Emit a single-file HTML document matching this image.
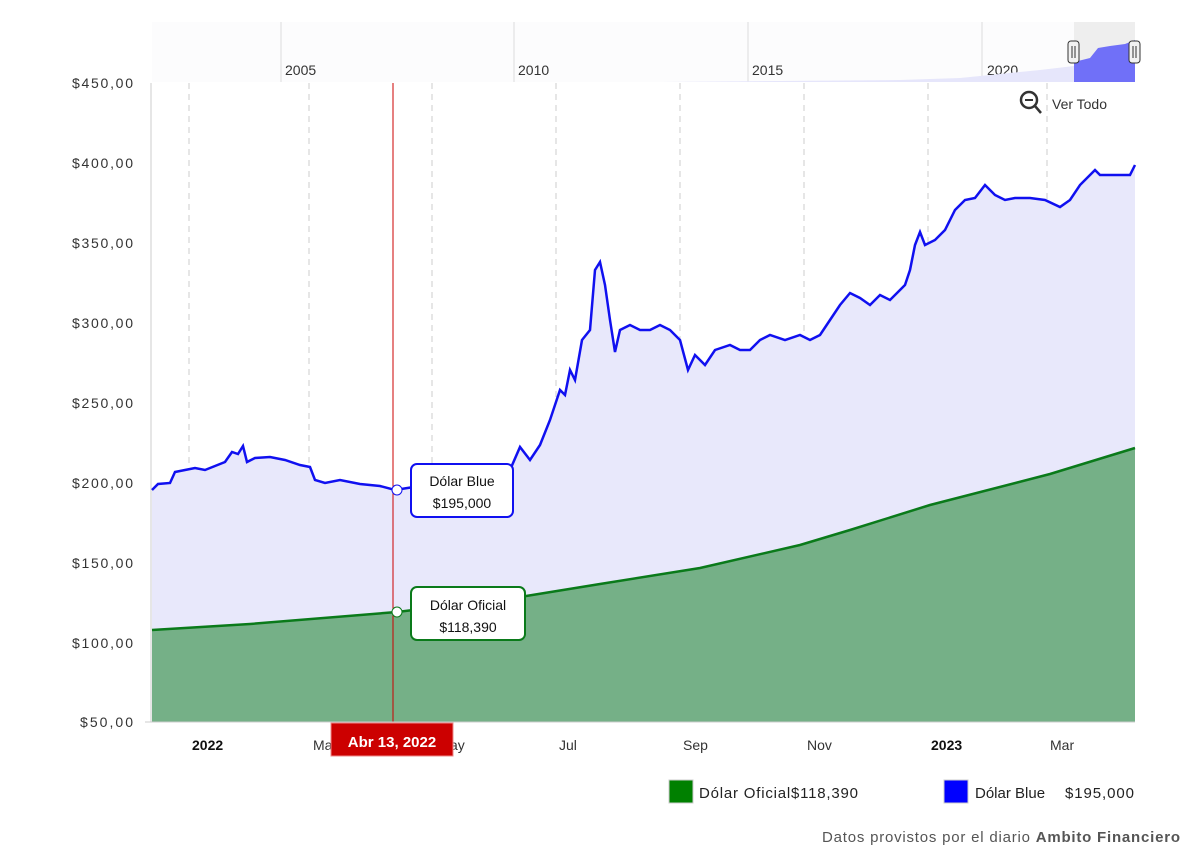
<!DOCTYPE html><html><head><meta charset="utf-8"><style>
body{margin:0;background:#fff;font-family:"Liberation Sans",Arial,sans-serif}
</style></head><body>
<svg width="1200" height="853" xmlns="http://www.w3.org/2000/svg" font-family="Liberation Sans, Arial, sans-serif">
<rect x="152" y="22" width="983" height="60" fill="#fcfcfd"/>
<g stroke="#ddd" stroke-width="1"><line x1="281" y1="22" x2="281" y2="82"/><line x1="514" y1="22" x2="514" y2="82"/><line x1="748" y1="22" x2="748" y2="82"/><line x1="982" y1="22" x2="982" y2="82"/></g>
<g font-size="14" fill="#333"><text x="285" y="75">2005</text><text x="518" y="75">2010</text><text x="752" y="75">2015</text><text x="987" y="75">2020</text></g>
<path d="M660 82 L900 80 L960 78 L1000 74 L1040 70 L1074 66 L1074 82 Z" fill="#e6e6fb"/>
<rect x="1074" y="22" width="61" height="60" fill="#eee"/>
<path d="M1074 82 L1074 62 L1090 58 L1098 48 L1110 46 L1125 44 L1135 40 L1135 82 Z" fill="#7070f8"/>
<rect x="1068" y="41" width="11" height="22" rx="3" fill="#f2f2f2" stroke="#333"/><rect x="1129" y="41" width="11" height="22" rx="3" fill="#f2f2f2" stroke="#333"/>
<g stroke="#333"><line x1="1072" y1="46" x2="1072" y2="58"/><line x1="1075" y1="46" x2="1075" y2="58"/><line x1="1133" y1="46" x2="1133" y2="58"/><line x1="1136" y1="46" x2="1136" y2="58"/></g>
<line x1="151" y1="83" x2="151" y2="722" stroke="#ccc"/>
<g stroke="#ccc" stroke-dasharray="6,5"><line x1="189" y1="83" x2="189" y2="722"/><line x1="309" y1="83" x2="309" y2="722"/><line x1="432" y1="83" x2="432" y2="722"/><line x1="556" y1="83" x2="556" y2="722"/><line x1="680" y1="83" x2="680" y2="722"/><line x1="804" y1="83" x2="804" y2="722"/><line x1="928" y1="83" x2="928" y2="722"/><line x1="1047" y1="83" x2="1047" y2="722"/></g>
<g font-size="14" fill="#333"><text x="72" y="88" textLength="61">$450,00</text><text x="72" y="168" textLength="61">$400,00</text><text x="72" y="248" textLength="61">$350,00</text><text x="72" y="328" textLength="61">$300,00</text><text x="72" y="408" textLength="61">$250,00</text><text x="72" y="488" textLength="61">$200,00</text><text x="72" y="568" textLength="61">$150,00</text><text x="72" y="648" textLength="61">$100,00</text><text x="80" y="727" textLength="53">$50,00</text></g>
<path id="b" d="M152 490 L158 484 L170 483 L175 472 L185 470 L195 468 L205 470 L215 466 L225 462 L232 452 L238 454 L243 446 L247 462 L255 458 L270 457 L285 460 L300 465 L310 467 L315 480 L325 483 L340 480 L360 484 L380 486 L395 490 L420 486 L450 470 L470 468 L490 475 L510 470 L520 447 L530 460 L540 445 L550 420 L560 390 L565 395 L570 370 L575 380 L582 340 L590 330 L595 270 L600 262 L605 285 L610 320 L615 352 L620 330 L630 325 L640 330 L650 330 L660 325 L670 330 L680 340 L688 370 L695 355 L705 365 L715 350 L730 345 L740 350 L750 350 L760 340 L770 335 L785 340 L800 335 L810 340 L820 335 L830 320 L840 305 L850 293 L860 298 L870 305 L880 295 L890 300 L900 290 L905 285 L910 270 L915 245 L920 232 L925 245 L935 240 L945 230 L955 210 L965 200 L975 198 L985 185 L995 195 L1005 200 L1015 198 L1030 198 L1045 200 L1060 207 L1070 200 L1080 185 L1085 180 L1095 170 L1100 175 L1110 175 L1130 175 L1135 165" fill="none"/>
<path d="M152 490 L158 484 L170 483 L175 472 L185 470 L195 468 L205 470 L215 466 L225 462 L232 452 L238 454 L243 446 L247 462 L255 458 L270 457 L285 460 L300 465 L310 467 L315 480 L325 483 L340 480 L360 484 L380 486 L395 490 L420 486 L450 470 L470 468 L490 475 L510 470 L520 447 L530 460 L540 445 L550 420 L560 390 L565 395 L570 370 L575 380 L582 340 L590 330 L595 270 L600 262 L605 285 L610 320 L615 352 L620 330 L630 325 L640 330 L650 330 L660 325 L670 330 L680 340 L688 370 L695 355 L705 365 L715 350 L730 345 L740 350 L750 350 L760 340 L770 335 L785 340 L800 335 L810 340 L820 335 L830 320 L840 305 L850 293 L860 298 L870 305 L880 295 L890 300 L900 290 L905 285 L910 270 L915 245 L920 232 L925 245 L935 240 L945 230 L955 210 L965 200 L975 198 L985 185 L995 195 L1005 200 L1015 198 L1030 198 L1045 200 L1060 207 L1070 200 L1080 185 L1085 180 L1095 170 L1100 175 L1110 175 L1130 175 L1135 165 L1135 722 L152 722 Z" fill="#e8e8fb"/>
<path d="M152 630 L250 624 L397 612 L520 597 L600 584 L700 568 L800 545 L850 530 L930 505 L1050 474 L1135 448 L1135 722 L152 722 Z" fill="#75b087"/>
<path d="M152 630 L250 624 L397 612 L520 597 L600 584 L700 568 L800 545 L850 530 L930 505 L1050 474 L1135 448" fill="none" stroke="#0a7a1a" stroke-width="2.5"/>
<use href="#b" stroke="#1010f0" stroke-width="2.5"/>
<line x1="393" y1="83" x2="393" y2="722" stroke="#c00" stroke-width="1"/>
<circle cx="397" cy="490" r="5" fill="#fff" stroke="#1010f0"/>
<circle cx="397" cy="612" r="5" fill="#fff" stroke="#0a7a1a"/>
<rect x="411" y="464" width="102" height="53" rx="6" fill="#fff" stroke="#1010f0" stroke-width="2"/>
<text x="462" y="486" font-size="14" text-anchor="middle" fill="#111">Dólar Blue</text><text x="462" y="508" font-size="14" text-anchor="middle" fill="#111">$195,000</text>
<rect x="411" y="587" width="114" height="53" rx="6" fill="#fff" stroke="#0a7a1a" stroke-width="2"/>
<text x="468" y="610" font-size="14" text-anchor="middle" fill="#111">Dólar Oficial</text><text x="468" y="632" font-size="14" text-anchor="middle" fill="#111">$118,390</text>
<line x1="145" y1="722" x2="1135" y2="722" stroke="#ccc"/>
<g font-size="14" fill="#333"><text x="313" y="750">Ma</text><text x="450" y="750">ay</text><text x="559" y="750">Jul</text><text x="683" y="750">Sep</text><text x="807" y="750">Nov</text><text x="1050" y="750">Mar</text></g>
<text x="931" y="750" font-size="14" font-weight="bold" fill="#111">2023</text>
<text x="192" y="750" font-size="14" font-weight="bold" fill="#111">2022</text>
<rect x="331" y="723" width="122" height="33" fill="#cc0000" stroke="#e88"/>
<text x="392" y="747" font-size="15" text-anchor="middle" fill="#fff" font-weight="bold">Abr 13, 2022</text>
<g stroke="#333" stroke-width="2.5" fill="none"><circle cx="1029" cy="100" r="8"/><line x1="1035" y1="106" x2="1041" y2="113"/></g>
<line x1="1025" y1="100" x2="1033" y2="100" stroke="#333" stroke-width="2"/>
<text x="1052" y="109" font-size="14" fill="#333">Ver Todo</text>
<rect x="669" y="780" width="24" height="23" fill="#008000" stroke="#ccc"/>
<text x="699" y="798" font-size="15" fill="#222" textLength="159">Dólar Oficial$118,390</text>
<rect x="944" y="780" width="24" height="23" fill="#0000ff" stroke="#ccc"/>
<text x="975" y="798" font-size="15" fill="#222">Dólar Blue</text><text x="1065" y="798" font-size="15" fill="#222" textLength="69">$195,000</text>
<text x="822" y="842" font-size="15" fill="#555" textLength="358">Datos provistos por el diario <tspan font-weight="bold">Ambito Financiero</tspan></text>
</svg></body></html>
